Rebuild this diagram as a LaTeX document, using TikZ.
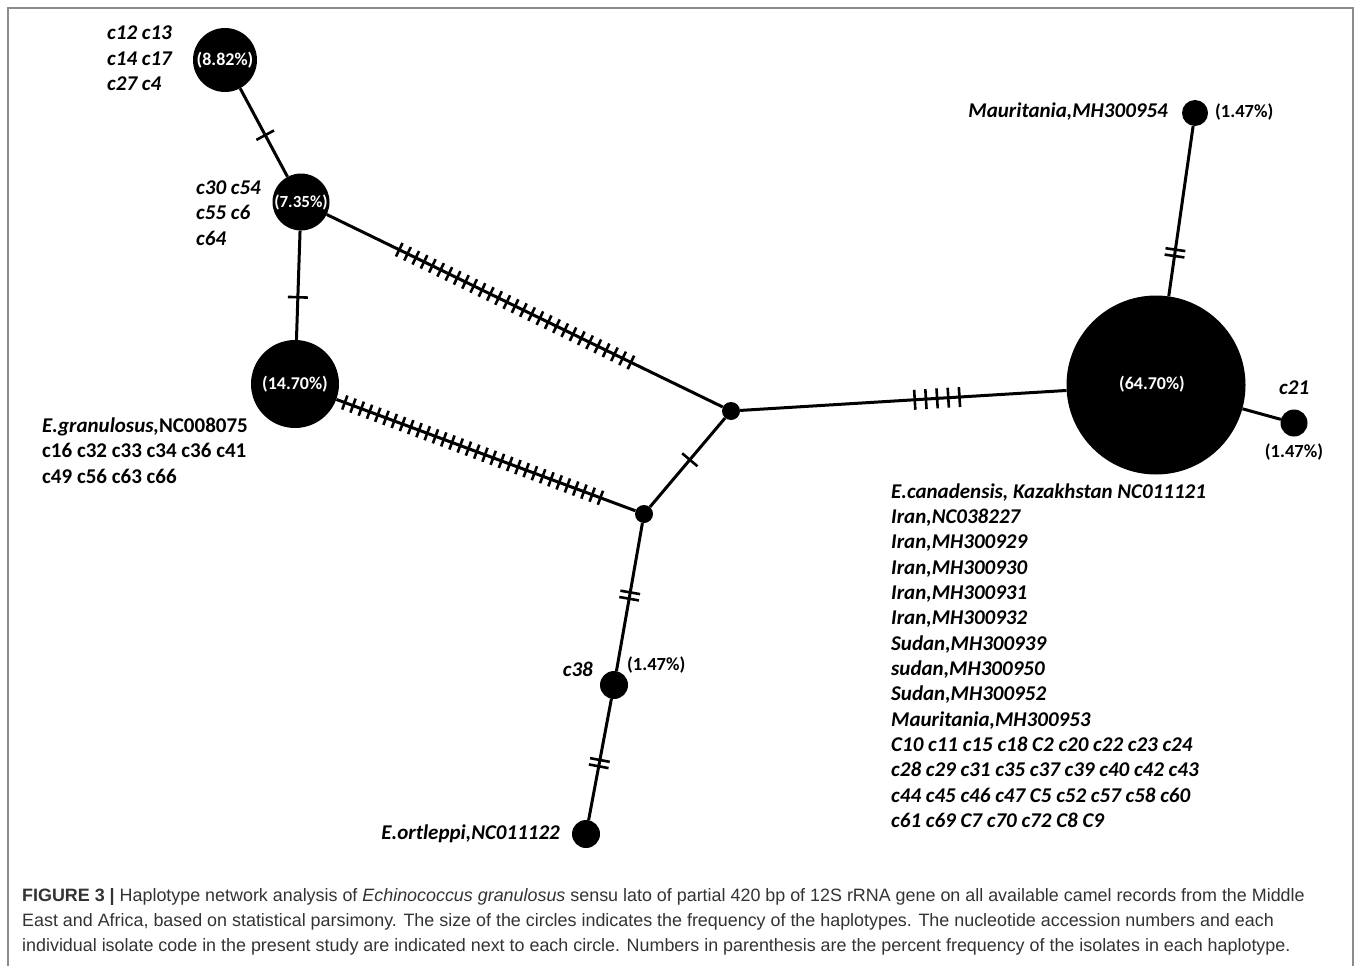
\documentclass[tikz,border=0pt]{standalone}
\usepackage{fontspec}
\setmainfont{Carlito}
\newfontfamily\capfont{Liberation Sans}
\usetikzlibrary{decorations.markings}
\tikzset{
  netline/.style={line width=3pt},
  hatchtick/.style={line width=2.6pt},
  hap/.style={circle, fill=black, inner sep=0pt, minimum size=#1},
  lab/.style={font=\fontsize{21}{25.35}\selectfont\bfseries\itshape, inner sep=0pt, align=left},
  pct/.style={font=\fontsize{18}{22}\selectfont\bfseries, text=white, inner sep=0pt},
  pctk/.style={font=\fontsize{18.5}{22}\selectfont\bfseries, text=black, inner sep=0pt},
  captext/.style={font=\capfont\fontsize{17.9}{22}\selectfont, text=black!80, inner sep=0pt, anchor=west},
  onehatch/.style={postaction={decorate,decoration={markings,
      mark=at position #1 with {\draw[hatchtick] (0pt,-10pt)--(0pt,10pt);}}}},
  twohatch/.style={postaction={decorate,decoration={markings,
      mark=at position #1 with {\draw[hatchtick] (-3.2pt,-10pt)--(-3.2pt,10pt) (3.2pt,-10pt)--(3.2pt,10pt);}}}},
  manyhatch/.style args={#1 to #2 by #3}{postaction={decorate,decoration={markings,
      mark=between positions #1 and #2 step #3 with {\draw[hatchtick] (0pt,-7.5pt)--(0pt,7.5pt);}}}},
  fivehatch/.style args={#1 to #2 by #3}{postaction={decorate,decoration={markings,
      mark=between positions #1 and #2 step #3 with {\draw[hatchtick] (0pt,-10pt)--(0pt,10pt);}}}},
}
\begin{document}
\begin{tikzpicture}[x=1pt,y=-1pt]
\useasboundingbox (0,0) rectangle (1358,966);
\fill[white] (0,0) rectangle (1358,966);
% frame
\draw[black!45, line width=1.3pt] (8,970) -- (8,8) -- (1353,8) -- (1353,970);

% haplotype circles
\node[hap=64pt] (A) at (225,60) {};
\node[hap=57pt] (B) at (301,202) {};
\node[hap=88pt] (C) at (295,384) {};
\node[hap=179pt] (D) at (1156,385) {};
\node[hap=26pt] (M) at (1195,113) {};
\node[hap=27pt] (E) at (1294,423) {};
\node[hap=18pt] (J1) at (731,411) {};
\node[hap=18pt] (J2) at (644,514) {};
\node[hap=28pt] (F) at (614,685) {};
\node[hap=28pt] (G) at (586,834) {};

% percentages inside circles
\node[pct] (pA) at (A) {(8.82\%)};
\node[pct, font=\fontsize{17}{20}\selectfont\bfseries] (pB) at (B) {(7.35\%)};
\node[pct] (pC) at (C) {(14.70\%)};
\node[pct] (pD) at (1152,384) {(64.70\%)};

% connectors
\draw[netline, onehatch=0.53] (A) -- (B);
\draw[netline, onehatch=0.61] (B) -- (C);
\draw[netline, manyhatch=0.183 to 0.785 by 9.2pt] (B) -- (J1);
\draw[netline, manyhatch=0.028 to 0.885 by 8.8pt] (C) -- (J2);
\draw[netline, onehatch=0.47] (J1) -- (J2);
\draw[netline, fivehatch=0.535 to 0.675 by 11.2pt] (J1) -- (D);
\draw[netline, twohatch=0.255] (D) -- (M);
\draw[netline] (D) -- (E);
\draw[netline, twohatch=0.49] (J2) -- (F);
\draw[netline, twohatch=0.53] (F) -- (G);

% labels
\node[lab, anchor=west] (lA) at (107,58.5) {c12 c13\\c14 c17\\c27 c4};
\node[lab, anchor=west] (lB) at (196,213) {c30 c54\\c55 c6\\c64};
\node[lab, anchor=west, font=\fontsize{21}{25.35}\selectfont\bfseries] (lC) at (42,450.5)
  {\textit{E.granulosus,}NC008075\\c16 c32 c33 c34 c36 c41\\c49 c56 c63 c66};
\node[lab, anchor=east] (lM) at (1168,112) {Mauritania,MH300954};
\node[pctk, anchor=west] (pM) at (1215,112) {(1.47\%)};
\node[lab, anchor=west] (lE) at (1279,388) {c21};
\node[pctk] (pE) at (1294,452) {(1.47\%)};
\node[lab, anchor=east] (lF) at (593,669) {c38};
\node[pctk, anchor=west] (pF) at (627,665) {(1.47\%)};
\node[lab, anchor=east] (lG) at (560,834) {E.ortleppi,NC011122};
\node[lab, anchor=west] (lD) at (891,655.5) {E.canadensis, Kazakhstan NC011121\\
Iran,NC038227\\Iran,MH300929\\Iran,MH300930\\Iran,MH300931\\Iran,MH300932\\
Sudan,MH300939\\sudan,MH300950\\Sudan,MH300952\\Mauritania,MH300953\\
C10 c11 c15 c18 C2 c20 c22 c23 c24\\c28 c29 c31 c35 c37 c39 c40 c42 c43\\
c44 c45 c46 c47 C5 c52 c57 c58 c60\\c61 c69 C7 c70 c72 C8 C9};

% caption
\node[captext] (cap1) at (22,897) {\textbf{FIGURE 3 |} Haplotype network analysis of \textit{Echinococcus granulosus} sensu lato of partial 420 bp of 12S rRNA gene on all available camel records from the Middle};
\node[captext] (cap2) at (22,922) {East and Africa, based on statistical parsimony. The size of the circles indicates the frequency of the haplotypes. The nucleotide accession numbers and each};
\node[captext] (cap3) at (22,947) {individual isolate code in the present study are indicated next to each circle. Numbers in parenthesis are the percent frequency of the isolates in each haplotype.};
\end{tikzpicture}
\end{document}
